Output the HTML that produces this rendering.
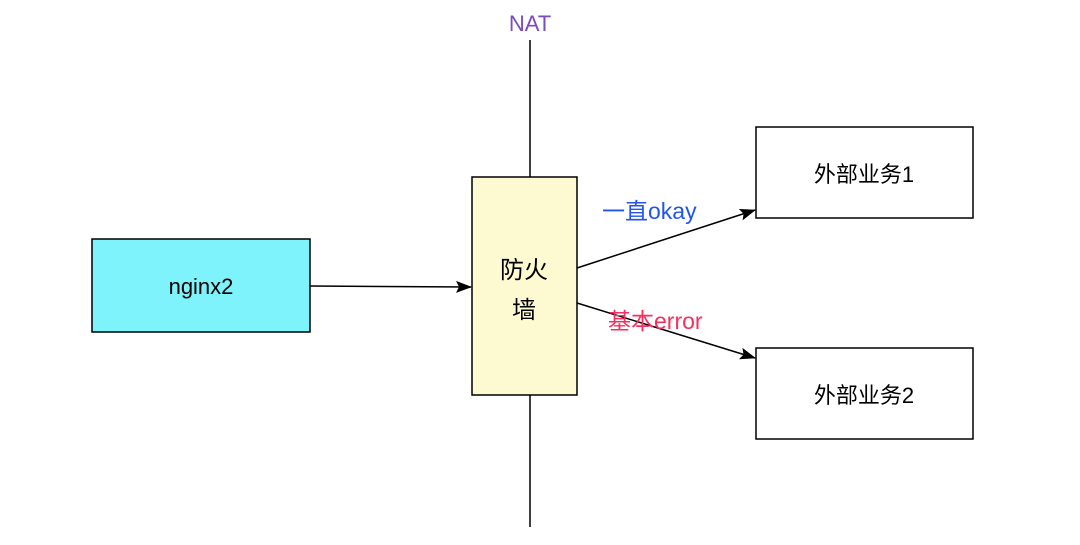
<!DOCTYPE html>
<html><head><meta charset="utf-8"><style>
body{margin:0;background:#fff;}
svg text{font-family:"Liberation Sans","Noto Sans CJK SC",sans-serif;}
</style></head><body>
<svg width="1080" height="540" viewBox="0 0 1080 540" xmlns="http://www.w3.org/2000/svg">
<defs><marker id="a" markerWidth="10" markerHeight="10" refX="9" refY="5" orient="auto" markerUnits="userSpaceOnUse" viewBox="0 0 10 10"><path d="M0,0 L10,5 L0,10 Z" fill="#000"/></marker>
<marker id="b" markerWidth="16" markerHeight="12" refX="15" refY="6" orient="auto" markerUnits="userSpaceOnUse" viewBox="0 0 16 12"><path d="M0,0 L16,6 L0,12 L3,6 Z" fill="#000"/></marker></defs>
<text x="530" y="31" font-size="22" fill="#7b4bbf" text-anchor="middle">NAT</text>
<line x1="530" y1="40" x2="530" y2="177" stroke="#000" stroke-width="1.5"/>
<line x1="530" y1="395" x2="530" y2="527" stroke="#000" stroke-width="1.5"/>
<rect x="92" y="239" width="218" height="93" fill="#7ef3fc" stroke="#000" stroke-width="1.5"/>
<text x="201" y="294" font-size="22" text-anchor="middle">nginx2</text>
<line x1="310" y1="286" x2="471" y2="287" stroke="#000" stroke-width="1.5" marker-end="url(#b)"/>
<rect x="472" y="177" width="105" height="218" fill="#fdf9d0" stroke="#000" stroke-width="1.5"/>
<text x="524" y="278" font-size="24" text-anchor="middle">防火</text>
<text x="524" y="318" font-size="24" text-anchor="middle">墙</text>
<line x1="577" y1="268" x2="755" y2="210" stroke="#000" stroke-width="1.5" marker-end="url(#b)"/>
<line x1="577" y1="303" x2="755" y2="358" stroke="#000" stroke-width="1.5" marker-end="url(#b)"/>
<text x="602" y="219" font-size="23" fill="#2255ee">一直okay</text>
<text x="608" y="329" font-size="23" fill="#f5305f">基本error</text>
<rect x="756" y="127" width="217" height="91" fill="#fff" stroke="#000" stroke-width="1.5"/>
<text x="864" y="182" font-size="22" text-anchor="middle">外部业务1</text>
<rect x="756" y="348" width="217" height="91" fill="#fff" stroke="#000" stroke-width="1.5"/>
<text x="864" y="403" font-size="22" text-anchor="middle">外部业务2</text>
</svg>
</body></html>
